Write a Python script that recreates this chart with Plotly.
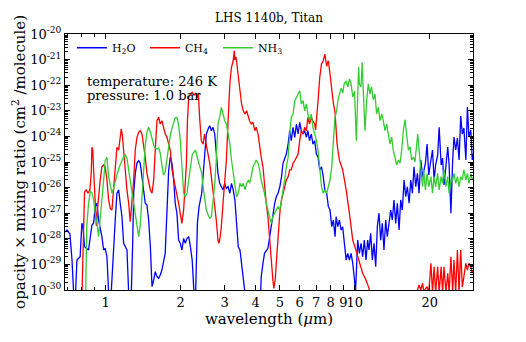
import math
import plotly.graph_objects as go

# ---------------- data ----------------
h2o_wl = [0.687, 0.700, 0.719, 0.733, 0.744, 0.756, 0.767, 0.790, 0.803, 0.810,
          0.823, 0.854, 0.881, 0.895, 0.908, 0.923, 0.937, 0.966, 0.982, 0.996,
          1.012, 1.028, 1.053, 1.077, 1.093, 1.110, 1.128, 1.144, 1.163, 1.181,
          1.218, 1.237, 1.268, 1.284, 1.296, 1.315, 1.336, 1.357, 1.377, 1.399,
          1.421, 1.442, 1.465, 1.488, 1.512, 1.535, 1.559, 1.582, 1.607, 1.632,
          1.656, 1.682, 1.734, 1.763, 1.791, 1.818, 1.847, 1.876, 1.902, 1.932,
          1.963, 1.993, 2.024, 2.056, 2.087, 2.121, 2.155, 2.189, 2.225, 2.262,
          2.297, 2.335, 2.371, 2.430, 2.461, 2.495, 2.536, 2.579, 2.617, 2.656,
          2.697, 2.740, 2.780, 2.824, 2.869, 2.913, 2.959, 3.005, 3.052, 3.101,
          3.151, 3.199, 3.250, 3.302, 3.353, 3.406, 3.460, 3.512, 3.567, 3.622,
          4.19, 4.21, 4.28, 4.34, 4.48, 4.55, 4.62, 4.69, 4.77, 4.84,
          4.92, 5.00, 5.08, 5.15, 5.31, 5.40, 5.48, 5.56, 5.65, 5.74,
          5.83, 5.92, 6.01, 6.10, 6.20, 6.29, 6.39, 6.48, 6.58, 6.69,
          6.79, 6.90, 7.01, 7.12, 7.23, 7.35, 7.47, 7.58, 7.71, 7.83,
          7.95, 8.08, 8.20, 8.33, 8.41, 8.54, 8.67, 8.81, 8.94, 9.08,
          9.23, 9.37, 9.51, 9.66, 9.81, 9.97, 10.06, 10.15, 10.27, 10.43,
          10.59, 10.75, 10.92, 11.09, 11.26, 11.40, 11.58, 11.76, 11.94, 12.13,
          12.31, 12.50, 12.70, 12.89, 13.09, 13.30, 13.50, 13.71, 13.93, 14.14,
          14.36, 14.59, 14.81, 15.05, 15.28, 15.51, 15.76, 16.01, 16.25, 16.51,
          16.77, 17.02, 17.28, 17.56, 17.83, 18.1, 18.4, 18.7, 18.9, 19.2,
          19.5, 19.8, 20.2, 20.5, 20.8, 21.1, 21.5, 21.8, 22.2, 22.5,
          22.8, 23.2, 23.6, 23.9, 24.3, 24.7, 25.0, 25.4, 25.8, 26.2,
          26.6, 27.0, 27.4, 27.9, 28.3, 28.7, 29.2, 29.6, 29.8]
h2o_val = [1.85e-28, 2.2e-28, 1.54e-28, 1.48e-29, 8e-31, 5e-31, 1.48e-29, 2.0e-29, 4.0e-28, 3.46e-28,
           4.9e-29, 3.65e-29, 3.46e-28, 4.1e-28, 1.8e-27, 2.44e-27, 5.4e-28, 1.21e-28, 3.65e-29, 4.25e-29,
           2.0e-29, 8e-31, 8e-31, 8.9e-29, 5.4e-28, 6.0e-27, 8.1e-27, 2.44e-27, 7.3e-28, 6.7e-29,
           3.65e-29, 8e-31, 8e-31, 6.7e-29, 6.0e-27, 3.6e-26, 9.1e-26, 1.12e-25, 8.9e-26, 2.67e-26,
           6.0e-27, 2.44e-27, 2.1e-27, 5.4e-28, 4.9e-29, 1.35e-30, 2.46e-30, 5.2e-30, 3.3e-30, 2.86e-30,
           3.85e-30, 6.0e-30, 2.7e-29, 1.0e-27, 4.9e-26, 1.57e-25, 8.9e-26, 1.98e-26, 2.44e-27, 1.0e-27,
           8.9e-29, 6.7e-29, 3.65e-29, 1.04e-28, 6.7e-29, 1.04e-28, 1.21e-28, 4.9e-29, 1.48e-29, 8e-31,
           8e-31, 4.0e-28, 1.8e-27, 6.0e-27, 2.67e-26, 8.9e-26, 1.24e-24, 1.95e-24, 2.6e-24, 1.67e-24,
           2.27e-24, 1.24e-24, 1.53e-25, 3.6e-26, 1.47e-26, 1.08e-26, 8.1e-27, 1.47e-26, 9.4e-27, 1.08e-26,
           6.0e-27, 1.47e-26, 8.1e-27, 3.3e-27, 5.4e-28, 4.9e-29, 3.65e-29, 1.1e-29, 1.83e-30, 8e-31,
           8e-31, 3.3e-30, 1.1e-29, 2.7e-29, 4.25e-29, 1.21e-28, 4.0e-28, 7.3e-28, 2.44e-27, 4.4e-27,
           6.0e-27, 1.08e-26, 2.67e-26, 8.9e-26, 2.05e-25, 5.0e-25, 1.67e-24, 6.8e-25, 2.27e-24, 9.2e-25,
           3.05e-24, 1.24e-24, 3.55e-24, 1.67e-24, 1.24e-24, 1.67e-24, 9.2e-25, 1.67e-24, 6.8e-25, 1.24e-24,
           5.0e-25, 6.8e-25, 2.05e-25, 1.53e-25, 4.9e-26, 6.5e-26, 2.67e-26, 8.1e-27, 6.0e-27, 1.8e-27,
           1.33e-27, 2.97e-28, 5.4e-28, 1.21e-28, 7.3e-28, 2.97e-28, 5.4e-28, 2.2e-28, 2.97e-28, 6.7e-29,
           1.48e-29, 2.7e-29, 1.48e-29, 2.7e-29, 1.1e-29, 2.46e-30, 8e-31, 6.0e-30, 8.9e-29, 2.7e-29,
           6.7e-29, 2.0e-29, 8.9e-29, 1.48e-29, 8.9e-29, 3.65e-29, 1.64e-28, 1.48e-29, 6.7e-29, 8.1e-30,
           2.97e-28, 1.0e-27, 8.9e-29, 4.0e-28, 3.65e-29, 5.4e-28, 1.21e-28, 4.0e-28, 1.33e-27, 5.4e-28,
           3.3e-27, 4.0e-28, 2.44e-27, 2.2e-28, 3.3e-27, 1.33e-27, 1.98e-26, 4.4e-27, 1.08e-26, 2.44e-27,
           1.98e-26, 6.0e-27, 6.5e-26, 1.08e-26, 3.6e-26, 6.0e-27, 1.2e-25, 2.67e-26, 4.9e-26, 8.9e-26,
           5.0e-25, 3.1e-26, 1.2e-25, 2.94e-25, 1.98e-26, 7.6e-26, 1.88e-25, 2.27e-24, 7.6e-26, 1.43e-25,
           1.26e-26, 9.1e-26, 3.85e-25, 7.6e-26, 1.0e-27, 1.2e-25, 9.5e-25, 2.94e-25, 8.65e-25, 1.2e-25,
           6.3e-24, 1.24e-24, 2.13e-24, 1.2e-25, 1.4e-23, 9.5e-25, 1.78e-24, 1.2e-25, 1.88e-25]

ch4_wl = [0.687, 0.803, 0.814, 0.823, 0.836, 0.850, 0.865, 0.876, 0.881, 0.888,
          0.895, 0.906, 0.918, 0.927, 0.937, 0.951, 0.966, 0.982, 0.996, 1.012,
          1.028, 1.044, 1.060, 1.077, 1.093, 1.110, 1.128, 1.144, 1.155, 1.166,
          1.181, 1.199, 1.218, 1.237, 1.255, 1.275, 1.296, 1.315, 1.336, 1.357,
          1.377, 1.399, 1.421, 1.442, 1.465, 1.488, 1.512, 1.535, 1.559, 1.582,
          1.607, 1.632, 1.656, 1.682, 1.709, 1.734, 1.763, 1.791, 1.818, 1.847,
          1.876, 1.902, 1.932, 1.963, 1.993, 2.024, 2.056, 2.087, 2.11, 2.13,
          2.155, 2.189, 2.225, 2.262, 2.297, 2.335, 2.357, 2.383, 2.420, 2.461,
          2.495, 2.536, 2.579, 2.617, 2.656, 2.697, 2.740, 2.780, 2.824, 2.848,
          2.883, 2.913, 2.959, 3.005, 3.052, 3.101, 3.151, 3.199, 3.250, 3.282,
          3.302, 3.336, 3.37, 3.406, 3.460, 3.512, 3.567, 3.622, 3.68, 3.74,
          3.78, 3.84, 3.90, 3.97, 4.02, 4.09, 4.15, 4.21, 4.28, 4.34,
          4.41, 4.48, 4.55, 4.62, 4.69, 4.73, 4.79, 4.85, 4.92, 5.00,
          5.08, 5.15, 5.23, 5.31, 5.40, 5.48, 5.56, 5.65, 5.74, 5.83,
          5.92, 6.01, 6.10, 6.20, 6.29, 6.39, 6.48, 6.58, 6.69, 6.79,
          6.90, 6.96, 7.05, 7.12, 7.23, 7.35, 7.47, 7.58, 7.71, 7.83,
          7.95, 8.08, 8.20, 8.33, 8.48, 8.61, 8.67, 8.94, 9.23, 9.51,
          9.81, 10.1, 10.43, 10.75, 11.09, 11.40, 11.50, 12.62, 17.43, 17.83,
          18.1, 18.4, 18.7, 18.9, 19.5, 19.8, 20.2, 20.5, 20.8, 21.1,
          21.5, 21.8, 22.2, 22.5, 22.8, 23.2, 23.6, 23.9, 24.3, 24.7,
          25.0, 25.4, 25.8, 26.2, 26.6, 27.0, 27.4, 27.9, 28.3, 28.7,
          29.2, 29.6, 29.8]
ch4_val = [5e-31, 5e-31, 8.9e-29, 6.7e-27, 8.1e-27, 6.0e-27, 8.1e-27, 4.1e-26, 3.75e-25, 2.94e-25,
           4.9e-26, 3.3e-27, 3.2e-28, 1.33e-27, 5.1e-27, 1.98e-26, 6.5e-26, 7.6e-26, 6.5e-26, 1.98e-26,
           3.3e-27, 1.55e-27, 1.33e-27, 1.05e-26, 8.4e-26, 3.75e-25, 2.94e-25, 1.24e-24, 1.95e-24, 1.24e-24,
           3.75e-25, 4.9e-26, 8.1e-27, 2.44e-27, 4.65e-28, 3.3e-27, 1.98e-26, 2.94e-25, 9.2e-25, 1.45e-24,
           1.67e-24, 1.24e-24, 5.0e-25, 1.53e-25, 3.6e-26, 1.47e-26, 8.1e-27, 6.0e-27, 1.98e-26, 2.94e-25,
           4.1e-24, 5.6e-24, 3.05e-24, 4.1e-24, 2.27e-24, 1.24e-24, 9.2e-25, 5.0e-25, 2.8e-25, 4.9e-26,
           1.98e-26, 1.08e-26, 5.2e-27, 2.44e-27, 1.0e-27, 4.0e-28, 1.33e-27, 1.08e-26, 9.1e-26, 4.4e-24,
           3.37e-23, 4.5e-23, 5.3e-23, 4.1e-23, 4.8e-23, 3.17e-23, 4.5e-23, 5.6e-24, 6.8e-25, 5.0e-25,
           1.24e-24, 4.6e-25, 1.88e-25, 8.9e-26, 2.67e-26, 8.1e-27, 2.44e-27, 5.4e-28, 8.9e-29, 6.7e-29,
           1.21e-28, 2.97e-28, 2.44e-27, 1.98e-26, 1.2e-25, 4.4e-24, 1.12e-22, 5.0e-22, 9.0e-22, 2.2e-21,
           9.6e-22, 1.26e-21, 5.1e-22, 2.0e-22, 4.5e-23, 1.85e-23, 1.0e-23, 7.5e-24, 1.0e-23, 5.6e-24,
           4.1e-24, 3.05e-24, 3.55e-24, 1.67e-24, 2.27e-24, 1.24e-24, 3.75e-25, 1.53e-25, 6.5e-26, 1.08e-26,
           2.44e-27, 7.3e-28, 8.9e-29, 1.48e-29, 2.46e-30, 1.16e-30, 2.46e-30, 1.48e-29, 1.21e-28, 1.0e-27,
           3.3e-27, 6.0e-27, 1.08e-26, 1.98e-26, 2.67e-26, 4.9e-26, 4.9e-26, 8.9e-26, 1.12e-25, 1.57e-25,
           2.05e-25, 6.8e-25, 1.67e-24, 1.24e-24, 2.27e-24, 1.67e-24, 5.6e-24, 3.05e-24, 5.6e-24, 4.1e-24,
           3.05e-24, 1.78e-24, 5.8e-24, 2.5e-23, 2.0e-22, 6.7e-22, 9.0e-22, 1.65e-21, 5.5e-22, 9.0e-22,
           2.74e-22, 6.5e-23, 2.0e-23, 8.9e-24, 5.4e-25, 1.88e-25, 1.2e-25, 4.9e-26, 8.1e-27, 1.0e-27,
           8.9e-29, 3.65e-29, 1.1e-29, 4.5e-30, 2.46e-30, 1.16e-30, 6e-31, 5e-31, 5e-31, 1.0e-30,
           1.57e-30, 1.0e-30, 1.83e-30, 9e-31, 1.35e-30, 8e-31, 1.1e-29, 8e-31, 8.1e-30, 8e-31,
           8.1e-30, 8e-31, 8.1e-30, 8e-31, 8.1e-30, 8e-31, 4.5e-30, 8e-31, 2.0e-29, 8e-31,
           1.48e-29, 8e-31, 3.65e-29, 8e-31, 3.65e-29, 1.3e-30, 3.85e-30, 1.1e-29, 6e-30, 1.1e-29,
           8.1e-30, 4.6e-30, 6e-30]

nh3_wl = [0.687, 0.816, 0.832, 0.840, 0.854, 0.868, 0.881, 0.895, 0.908, 0.923,
          0.937, 0.951, 0.966, 0.982, 0.996, 1.012, 1.028, 1.044, 1.060, 1.077,
          1.093, 1.110, 1.131, 1.152, 1.174, 1.199, 1.218, 1.240, 1.263, 1.287,
          1.311, 1.336, 1.357, 1.377, 1.399, 1.421, 1.442, 1.465, 1.488, 1.512,
          1.535, 1.559, 1.582, 1.607, 1.632, 1.656, 1.682, 1.709, 1.734, 1.763,
          1.791, 1.818, 1.847, 1.876, 1.902, 1.932, 1.963, 1.993, 2.024, 2.056,
          2.087, 2.121, 2.155, 2.189, 2.225, 2.262, 2.297, 2.335, 2.371, 2.390,
          2.430, 2.461, 2.495, 2.536, 2.579, 2.617, 2.656, 2.697, 2.740, 2.780,
          2.824, 2.869, 2.913, 2.959, 3.005, 3.052, 3.101, 3.151, 3.199, 3.250,
          3.302, 3.353, 3.406, 3.460, 3.512, 3.567, 3.622, 3.68, 3.74, 3.78,
          3.84, 3.90, 3.97, 4.02, 4.09, 4.15, 4.21, 4.28, 4.34, 4.41,
          4.48, 4.55, 4.62, 4.69, 4.77, 4.84, 4.92, 5.00, 5.08, 5.15,
          5.23, 5.31, 5.40, 5.48, 5.56, 5.65, 5.74, 5.83, 5.92, 6.01,
          6.10, 6.20, 6.29, 6.39, 6.48, 6.58, 6.69, 6.79, 6.90, 7.01,
          7.12, 7.23, 7.35, 7.47, 7.58, 7.71, 7.83, 7.95, 8.08, 8.17,
          8.25, 8.32, 8.46, 8.56, 8.68, 8.81, 8.95, 9.06, 9.23, 9.37,
          9.51, 9.66, 9.81, 9.97, 10.14, 10.26, 10.36, 10.43, 10.59, 10.70,
          10.84, 10.98, 11.16, 11.33, 11.50, 11.67, 11.86, 12.05, 12.23, 12.42,
          12.62, 12.82, 13.01, 13.21, 13.42, 13.63, 13.84, 14.06, 14.27, 14.49,
          14.72, 14.95, 15.18, 15.42, 15.66, 15.90, 16.15, 16.40, 16.65, 16.91,
          17.17, 17.43, 17.70, 17.89, 18.1, 18.4, 18.7, 18.9, 19.2, 19.5,
          19.8, 20.2, 20.5, 20.8, 21.1, 21.5, 21.8, 22.2, 22.5, 22.8,
          23.2, 23.6, 23.9, 24.3, 24.7, 25.0, 25.4, 25.8, 26.2, 26.6,
          27.0, 27.4, 27.9, 28.3, 28.7, 29.2, 29.6, 29.8]
nh3_val = [5e-31, 5e-31, 1.0e-30, 2.97e-28, 2.44e-27, 6.9e-27, 6.2e-27, 3.3e-27, 1.0e-27, 4.1e-28,
           1.21e-28, 5.4e-28, 2.44e-27, 1.98e-26, 1.12e-25, 1.53e-25, 2.67e-26, 1.15e-26, 6.0e-27, 9.6e-27,
           1.98e-26, 3.1e-26, 5.8e-26, 1.0e-25, 1.43e-25, 1.88e-25, 1.43e-25, 4.1e-26, 1.26e-26, 3.3e-27,
           8.5e-28, 2.2e-28, 1.21e-28, 3.46e-28, 6.2e-27, 4.9e-26, 4.6e-25, 1.48e-24, 2.27e-24, 1.48e-24,
           7.2e-25, 4.6e-25, 3.5e-25, 3.2e-25, 3.5e-25, 2.25e-25, 7.6e-26, 3.1e-26, 4.1e-26, 1.2e-25,
           4.6e-25, 1.13e-24, 2.13e-24, 3.7e-24, 5.3e-24, 5.6e-24, 2.8e-24, 7.2e-25, 4.9e-26, 6.2e-27,
           4.3e-27, 6.2e-27, 1.98e-26, 7.6e-26, 1.88e-25, 2.46e-25, 2.8e-25, 1.43e-25, 9.1e-26, 5.8e-26,
           3.6e-26, 1.08e-26, 4.4e-27, 1.33e-27, 8.5e-28, 6.3e-28, 7.3e-28, 3.3e-27, 1.26e-26, 1.2e-25,
           3.05e-24, 5.8e-24, 1.37e-23, 7.5e-24, 4.1e-24, 3.05e-24, 1.24e-24, 5.0e-25, 1.2e-25, 3.7e-26,
           1.08e-26, 4.4e-27, 6.0e-27, 1.47e-26, 1.08e-26, 1.47e-26, 8.1e-27, 1.47e-26, 1.98e-26, 1.47e-26,
           2.67e-26, 6.5e-26, 8.9e-26, 1.2e-25, 8.9e-26, 4.9e-26, 1.98e-26, 1.08e-26, 6.0e-27, 2.44e-27,
           1.33e-27, 7.3e-28, 4.0e-28, 7.3e-28, 1.0e-27, 1.33e-27, 1.8e-27, 1.33e-27, 3.3e-27, 8.1e-27,
           1.98e-26, 6.5e-26, 1.53e-25, 1.24e-24, 5.6e-24, 7.5e-24, 2.5e-23, 3.37e-23, 4.5e-23, 6.1e-23,
           1.85e-23, 2.5e-23, 1.0e-23, 1.85e-23, 7.5e-24, 4.1e-24, 7.5e-24, 2.27e-24, 1.24e-24, 7.2e-25,
           2.8e-25, 4.9e-26, 1.08e-26, 6.0e-27, 8.1e-27, 6.0e-27, 1.08e-26, 1.98e-26, 6.5e-26, 2.94e-25,
           1.36e-24, 5.3e-24, 1.07e-23, 2.64e-23, 4.5e-23, 7.7e-23, 5.0e-23, 1.12e-22, 1.46e-22, 8.5e-23,
           1.76e-22, 1.12e-22, 3.45e-23, 5.9e-23, 6.8e-25, 2.64e-23, 5.0e-22, 1.12e-22, 8.5e-23, 7.8e-22,
           2.64e-23, 1.67e-24, 2.64e-23, 1.12e-22, 4.5e-23, 8.5e-23, 2.64e-23, 4.5e-23, 7.5e-24, 1.4e-23,
           4.1e-24, 7.5e-24, 4.1e-24, 1.67e-24, 3.05e-24, 1.24e-24, 5.0e-25, 9.5e-25, 2.8e-25, 1.53e-25,
           7.6e-26, 1.2e-25, 9.1e-26, 2.94e-25, 1.78e-24, 4.4e-24, 1.24e-24, 2.94e-25, 3.9e-25, 1.2e-25,
           1.57e-25, 1.0e-25, 4.6e-25, 1.24e-24, 2.94e-25, 4.9e-26, 1.08e-26, 4.9e-26, 8.1e-27, 3.6e-26,
           1.08e-26, 2.67e-26, 6.0e-27, 2.67e-26, 1.08e-26, 3.6e-26, 8.1e-27, 2.67e-26, 1.47e-26, 4.9e-26,
           1.08e-26, 2.67e-26, 6.0e-27, 1.98e-26, 1.98e-26, 3.6e-26, 1.47e-26, 2.67e-26, 1.08e-26, 2.67e-26,
           1.98e-26, 4.9e-26, 1.98e-26, 3.6e-26, 1.47e-26, 3.6e-26, 1.98e-26, 2.4e-26]

x_tick_vals = [1, 2, 3, 4, 5, 6, 7, 8, 9, 10, 20]
x_tick_text = ["1", "2", "3", "4", "5", "6", "7", "8", "9", "10", "20"]
y_tick_vals = [1e-20, 1e-21, 1e-22, 1e-23, 1e-24, 1e-25, 1e-26, 1e-27, 1e-28, 1e-29, 1e-30]
y_tick_text = ["10<sup>-20</sup>", "10<sup>-21</sup>", "10<sup>-22</sup>", "10<sup>-23</sup>",
               "10<sup>-24</sup>", "10<sup>-25</sup>", "10<sup>-26</sup>", "10<sup>-27</sup>",
               "10<sup>-28</sup>", "10<sup>-29</sup>", "10<sup>-30</sup>"]
x_range = [0.687, 29.8]
y_range = [1e-30, 1e-20]

FONT = "DejaVu Serif"

# the page body adds an 8 px offset at top/left, so the figure is 8 px smaller
W, H = 518, 334

fig = go.Figure()
fig.add_trace(go.Scatter(x=h2o_wl, y=h2o_val, mode="lines", name="H<sub>2</sub>O",
                         line=dict(color="#0000ff", width=1.3)))
fig.add_trace(go.Scatter(x=ch4_wl, y=ch4_val, mode="lines", name="CH<sub>4</sub>",
                         line=dict(color="#ff0000", width=1.3)))
fig.add_trace(go.Scatter(x=nh3_wl, y=nh3_val, mode="lines", name="NH<sub>3</sub>",
                         line=dict(color="#33cc33", width=1.3)))

axis_common = dict(
    showline=True, linecolor="black", linewidth=1, mirror="ticks",
    ticks="inside", ticklen=5, tickcolor="black", showgrid=False, zeroline=False,
    automargin=False,
    tickfont=dict(family=FONT, size=13, color="black"),
)

fig.update_xaxes(type="log", range=[math.log10(x_range[0]), math.log10(x_range[1])],
                 tickmode="array", tickvals=x_tick_vals, ticktext=x_tick_text, tickangle=0,
                 minor=dict(ticks="inside", ticklen=3, tickcolor="black", dtick="D1", showgrid=False),
                 title=dict(text="wavelength (<i>μ</i>m)", font=dict(family=FONT, size=15, color="black"),
                            standoff=2),
                 **axis_common)
fig.update_yaxes(type="log", range=[math.log10(y_range[0]), math.log10(y_range[1])],
                 tickmode="array", tickvals=y_tick_vals, ticktext=y_tick_text,
                 minor=dict(ticks="inside", ticklen=3, tickcolor="black", dtick="D1", showgrid=False),
                 **axis_common)

fig.update_layout(
    width=W, height=H,
    margin=dict(l=57, r=53, t=26, b=52),
    paper_bgcolor="white", plot_bgcolor="white",
    font=dict(family=FONT, color="black", size=12),
    title=dict(text="LHS 1140b, Titan", x=0.5, xref="paper", xanchor="center",
               y=1 - 10 / H, yref="container", yanchor="middle",
               font=dict(family=FONT, size=12, color="black")),
    legend=dict(orientation="h", x=0.017, y=1.003, xanchor="left", yanchor="top",
                bgcolor="rgba(0,0,0,0)", font=dict(family=FONT, size=11, color="black"),
                entrywidth=28, itemwidth=30, tracegroupgap=0),
    annotations=[
        dict(text="opacity × mixing ratio (cm<sup>2</sup> /molecule)", xref="paper", yref="paper",
             x=-0.113, y=0.5, xanchor="center", yanchor="middle", textangle=-90, showarrow=False,
             font=dict(family=FONT, size=15, color="black")),
        dict(text="temperature: 246 K", xref="paper", yref="paper", x=0.05, y=0.816,
             xanchor="left", yanchor="middle", showarrow=False,
             font=dict(family=FONT, size=13, color="black")),
        dict(text="pressure: 1.0 bar", xref="paper", yref="paper", x=0.05, y=0.758,
             xanchor="left", yanchor="middle", showarrow=False,
             font=dict(family=FONT, size=13, color="black")),
    ],
)

fig.write_html("out.html")
